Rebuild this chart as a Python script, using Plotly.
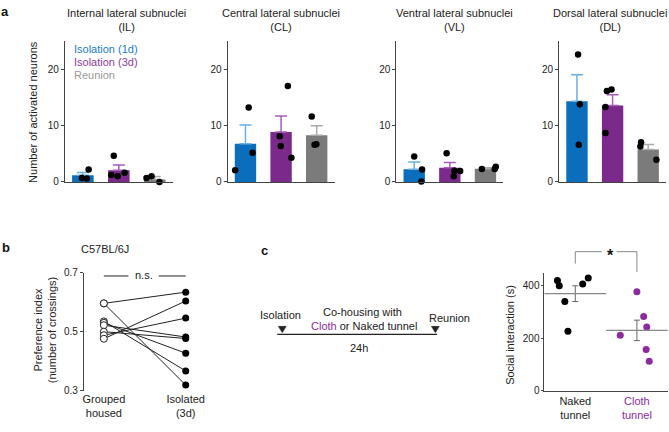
import plotly.graph_objects as go

W, H = 669, 432
FONT = "Liberation Sans, Arial, sans-serif"


def px(x):
    return x / W


def py(y):
    return 1 - y / H


# ---------------- Panel a data ----------------
groups = ["Isolation (1d)", "Isolation (3d)", "Reunion"]
region_titles = [
    "Internal lateral subnuclei<br>(IL)",
    "Central lateral subnuclei<br>(CL)",
    "Ventral lateral subnuclei<br>(VL)",
    "Dorsal lateral subnuclei<br>(DL)",
]

IL_means = [1.2, 2.1, 0.46]
IL_sem = [0.5, 0.9, 0.52]
IL_points = [[0.7, 0.6, 2.2], [4.65, 1.25, 1.0, 1.65], [0.7, 1.0, 0.0]]
IL_jitter = [[-0.03, 0.11, 0.16], [-0.14, -0.21, -0.03, 0.16], [-0.23, -0.09, 0.13]]

CL_means = [6.8, 8.85, 8.3]
CL_sem = [3.3, 2.85, 1.65]
CL_points = [[2.1, 5.2, 13.2], [17.0, 8.1, 6.4, 4.3], [11.6, 6.6, 6.7]]
CL_jitter = [[-0.29, 0.2, 0.09], [0.19, -0.04, -0.01, 0.29], [-0.14, -0.06, -0.01]]

VL_means = [2.25, 2.5, 2.35]
VL_sem = [1.3, 0.95, 0.15]
VL_points = [[4.5, 2.2, 0.1], [5.1, 2.0, 1.95, 1.0], [2.3, 2.3, 2.7]]
VL_jitter = [[0.0, 0.22, 0.2], [-0.09, 0.13, 0.29, 0.11], [-0.1, 0.26, 0.29]]

DL_means = [14.3, 13.55, 5.75]
DL_sem = [4.7, 1.9, 0.9]
DL_points = [[22.6, 13.8, 6.6], [16.15, 16.4, 13.3, 8.7], [7.05, 6.3, 3.95]]
DL_jitter = [[0.03, 0.08, 0.05], [-0.16, -0.03, -0.2, -0.2], [-0.2, -0.22, 0.23]]

a_ticks = [0, 10, 20]

# ---------------- Panel b data ----------------
b_categories = ["Grouped<br>housed", "Isolated<br>(3d)"]
b_grouped = [0.596, 0.596, 0.535, 0.530, 0.522, 0.500, 0.488, 0.476]
b_isolated = [0.634, 0.319, 0.367, 0.427, 0.482, 0.477, 0.546, 0.604]
b_ticks = [0.3, 0.5, 0.7]

# ---------------- Panel c data ----------------
c_naked = [420, 400, 340, 227, 407, 430]
c_naked_jitter = [-0.29, -0.26, -0.17, -0.12, 0.12, 0.21]
c_cloth = [377, 283, 243, 211, 157, 112]
c_cloth_jitter = [0.0, 0.11, 0.16, -0.27, 0.15, 0.2]
c_means = [370, 230]
c_sem = [30, 39]
c_ticks = [0, 200, 400]

# ---------------- styles ----------------
bar_colors = ["#0b6ebd", "#7b2a8b", "#7b7b7b"]
err_colors = ["#6aaee2", "#a65cb8", "#aaaaaa"]
legend_colors = ["#1a7ccc", "#8e3d9e", "#9a9a9a"]
purple = "#8b2c9e"
axcol = "#444444"

fig = go.Figure()
layout = dict(
    width=W, height=H, autosize=False,
    margin=dict(l=0, r=0, t=0, b=0),
    paper_bgcolor="white", plot_bgcolor="white",
    font=dict(family=FONT, size=11, color="#222"),
    showlegend=False, barmode="overlay",
)


def axname(k, a):
    return f"{a}axis" if k == 1 else f"{a}axis{k}"


def axref(k, a):
    return a if k == 1 else f"{a}{k}"


def note(text, x, y, size=11, color="#222", angle=0, xanchor="center", xref="paper", xdata=False):
    return dict(text=text, x=x if xdata else px(x), y=py(y), xref=xref, yref="paper",
                showarrow=False, textangle=angle, font=dict(size=size, color=color),
                xanchor=xanchor, yanchor="middle")


region_data = [
    (IL_means, IL_sem, IL_points, IL_jitter),
    (CL_means, CL_sem, CL_points, CL_jitter),
    (VL_means, VL_sem, VL_points, VL_jitter),
    (DL_means, DL_sem, DL_points, DL_jitter),
]
a_xdomains = [(64, 172), (227, 334), (396, 503), (559, 666)]
a_title_x = [126, 280, 454, 610]

annotations = []
shapes = []

for i, (means, sems, pts, jit) in enumerate(region_data):
    k = i + 1
    xr, yr = axref(k, "x"), axref(k, "y")
    for g in range(3):
        fig.add_trace(go.Bar(
            x=[g], y=[means[g]], width=0.6, xaxis=xr, yaxis=yr,
            marker=dict(color=bar_colors[g], line=dict(width=0)),
            error_y=dict(type="data", array=[sems[g]], arrayminus=[0], symmetric=False,
                         color=err_colors[g], thickness=1.5, width=6),
            name=groups[g],
        ))
    for g in range(3):
        fig.add_trace(go.Scatter(
            x=[g + j for j in jit[g]], y=pts[g], mode="markers", xaxis=xr, yaxis=yr,
            marker=dict(color="black", size=6.5), cliponaxis=False,
        ))
    d0, d1 = a_xdomains[i]
    layout[axname(k, "x")] = dict(
        domain=[px(d0), px(d1)], range=[-0.5, 2.5], anchor=yr,
        showline=True, linecolor=axcol, linewidth=1, ticks="", showticklabels=False,
        showgrid=False, zeroline=False,
    )
    layout[axname(k, "y")] = dict(
        domain=[py(181), py(36)], range=[0, 25], anchor=xr,
        showline=True, linecolor=axcol, linewidth=1, ticks="outside", ticklen=3,
        tickcolor=axcol, tickvals=a_ticks, tickfont=dict(size=10, color="#222"),
        showgrid=False, zeroline=False,
    )
    annotations.append(note(region_titles[i], a_title_x[i], 14))

# legend texts panel a
for g, yy in zip(range(3), [44, 58, 71]):
    annotations.append(note(groups[g], 71, yy, color=legend_colors[g], xanchor="left"))

annotations.append(note("Number of activated neurons", 32, 109, angle=-90))

# ---------------- Panel b ----------------
lx, ly = [], []
for g0, g1 in zip(b_grouped, b_isolated):
    lx += [0, 1, None]
    ly += [g0, g1, None]
fig.add_trace(go.Scatter(x=lx, y=ly, mode="lines", xaxis="x5", yaxis="y5",
                         line=dict(color="#222", width=1)))
fig.add_trace(go.Scatter(x=[0] * len(b_grouped), y=b_grouped, mode="markers", xaxis="x5", yaxis="y5",
                         marker=dict(color="white", size=7, line=dict(color="#222", width=1)),
                         cliponaxis=False))
fig.add_trace(go.Scatter(x=[1] * len(b_isolated), y=b_isolated, mode="markers", xaxis="x5", yaxis="y5",
                         marker=dict(color="black", size=7), cliponaxis=False))
layout["xaxis5"] = dict(
    domain=[px(83), px(205)], range=[-0.244, 1.244], anchor="y5",
    showline=False, ticks="", tickvals=[0, 1], ticktext=b_categories,
    tickfont=dict(size=11, color="#222"), showgrid=False, zeroline=False,
)
layout["yaxis5"] = dict(
    domain=[py(395.7), py(274.3)], range=[0.3, 0.7], anchor="x5",
    showline=True, linecolor=axcol, linewidth=1, ticks="outside", ticklen=3, tickcolor=axcol,
    tickvals=b_ticks, tickformat=".1f", tickfont=dict(size=10, color="#222"),
    showgrid=False, zeroline=False,
)
annotations += [
    note("C57BL/6J", 104, 250),
    note("n.s.", 0.49, 277, xref="x5", xdata=True),
    note("Preference index<br>(number of crossings)", 43.5, 333, angle=-90),
]
for x0, x1 in [(0, 0.3), (0.67, 1.0)]:
    shapes.append(dict(type="line", xref="x5", yref="paper", x0=x0, x1=x1,
                       y0=py(277.7), y1=py(277.7), line=dict(color="#222", width=1)))

# ---------------- Panel c (scatter) ----------------
fig.add_trace(go.Scatter(x=[0 + j for j in c_naked_jitter], y=c_naked, mode="markers",
                         xaxis="x6", yaxis="y6", marker=dict(color="black", size=7), cliponaxis=False))
fig.add_trace(go.Scatter(x=[1 + j for j in c_cloth_jitter], y=c_cloth, mode="markers",
                         xaxis="x6", yaxis="y6", marker=dict(color=purple, size=7), cliponaxis=False))
fig.add_trace(go.Scatter(
    x=[0, 1], y=c_means, mode="markers", xaxis="x6", yaxis="y6",
    marker=dict(symbol="line-ew", size=44, color="#888", line=dict(color="#888", width=1.3)),
    error_y=dict(type="data", array=c_sem, color="#666", thickness=1, width=3),
    cliponaxis=False,
))
layout["xaxis6"] = dict(
    domain=[px(544.3), px(667.7)], range=[-0.5, 1.5], anchor="y6",
    showline=True, linecolor=axcol, linewidth=1, ticks="", tickvals=[0, 1],
    ticktext=["Naked<br>tunnel",
              f"<span style='color:{purple}'>Cloth</span><br><span style='color:{purple}'>tunnel</span>"],
    tickfont=dict(size=11, color="#222"), showgrid=False, zeroline=False,
)
layout["yaxis6"] = dict(
    domain=[py(395.7), py(274.3)], range=[0, 450], anchor="x6",
    showline=True, linecolor=axcol, linewidth=1, ticks="outside", ticklen=2, tickcolor=axcol,
    tickvals=c_ticks, tickfont=dict(size=10, color="#222"), showgrid=False, zeroline=False,
)
annotations.append(note("Social interaction (s)", 509, 338, angle=-90))
# significance bracket
brc = "#888888"
shapes += [
    dict(type="line", xref="x6", yref="paper", x0=0, x1=0, y0=py(252.7), y1=py(265),
         line=dict(color=brc, width=1)),
    dict(type="line", xref="x6", yref="paper", x0=1, x1=1, y0=py(252.7), y1=py(273.7),
         line=dict(color=brc, width=1)),
    dict(type="line", xref="x6", yref="paper", x0=0, x1=0.43, y0=py(252.7), y1=py(252.7),
         line=dict(color=brc, width=1)),
    dict(type="line", xref="x6", yref="paper", x0=0.67, x1=1, y0=py(252.7), y1=py(252.7),
         line=dict(color=brc, width=1)),
]
annotations.append(note("<b>*</b>", 0.57, 257, size=16, color="#111", xref="x6", xdata=True))

# ---------------- Panel c (timeline diagram) ----------------
shapes.append(dict(type="line", xref="paper", yref="paper", x0=px(276.7), x1=px(436.7),
                   y0=py(337.7), y1=py(337.7), line=dict(color="#222", width=1.3)))
for cx in [281.7, 435]:
    path = (f"M {px(cx - 4)},{py(329.5)} L {px(cx + 4)},{py(329.5)} "
            f"L {px(cx)},{py(336)} Z")
    shapes.append(dict(type="path", xref="paper", yref="paper", path=path,
                       fillcolor="#222", line=dict(color="#222", width=0.5)))
annotations += [
    note("Isolation", 280, 318.3),
    note("Co-housing with", 361.7, 315),
    note(f"<span style='color:{purple}'>Cloth</span> or Naked tunnel", 363.3, 328.7),
    note("Reunion", 449.5, 320.7),
    note("24h", 359, 351.7),
]

# panel letters
for t, xx, yy in [("a", 4, 6), ("b", 5, 248), ("c", 264, 251)]:
    annotations.append(note(f"<b>{t}</b>", xx, yy, size=13, color="#111"))

layout["annotations"] = annotations
layout["shapes"] = shapes
fig.update_layout(**layout)

fig.write_html("out.html", config={"displayModeBar": False},
               post_script="document.body.style.margin='0';document.body.style.overflow='hidden';")
